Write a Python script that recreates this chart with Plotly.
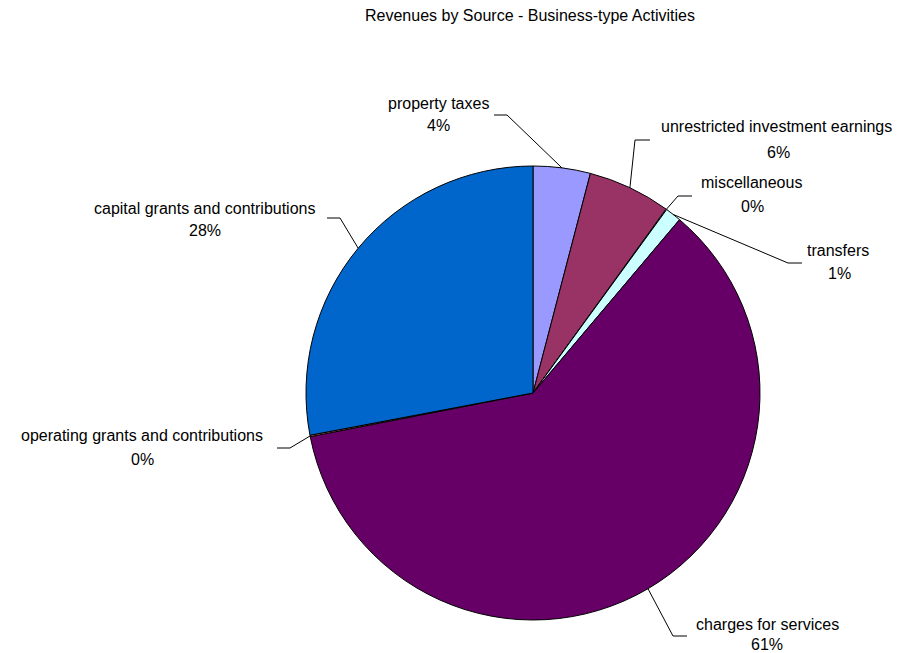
import math
import plotly.graph_objects as go

W, H = 905, 653

# ---- data ----
labels = ["property taxes", "unrestricted investment earnings", "miscellaneous",
          "transfers", "charges for services", "operating grants and contributions",
          "capital grants and contributions"]
values = [4.07, 5.90, 0.05, 1.15, 60.75, 0.10, 27.98]
pct_labels = ["4%", "6%", "0%", "1%", "61%", "0%", "28%"]
colors = ["#9999FF", "#993366", "#FFFFCC", "#CCFFFF", "#660066", "#FF8080", "#0066CC"]

# ---- layout (pixels) ----
cx, cy, R = 533, 393, 227
# label line centre (x, y) and percent line centre (x, y)
name_pos = [(438, 103), (776, 127), (751, 183), (838, 250), (767, 624), (142, 435), (204, 208)]
pct_pos = [(438, 126), (778, 152), (752, 207), (839, 273), (767, 644), (142, 459), (205, 230)]
# elbow point and end of horizontal segment of each leader line
elbow = [(507, 115), (635, 140), (678, 196), (788, 263), (673, 636), (290, 448), (340, 218)]
ends = [(494, 115), (650, 140), (692, 196), (802, 263), (687, 636), (277, 448), (327, 218)]


def px(x):
    return x / W


def py(y):
    return 1 - y / H


fig = go.Figure(go.Pie(
    labels=labels, values=values, sort=False, direction="clockwise", rotation=0,
    marker=dict(colors=colors, line=dict(color="black", width=1)),
    textinfo="none", hoverinfo="label+percent", showlegend=False,
    domain=dict(x=[px(cx - R), px(cx + R)], y=[py(cy + R), py(cy - R)]),
))

font = dict(family="Liberation Sans, Arial, sans-serif", size=16, color="black")
annotations = []
shapes = []
total = sum(values)
cum = 0.0
for i, v in enumerate(values):
    mid = (cum + v / 2) / total * 2 * math.pi
    cum += v
    ax_ = cx + R * math.sin(mid)
    ay_ = cy - R * math.cos(mid)
    annotations.append(dict(x=px(name_pos[i][0]), y=py(name_pos[i][1]), xref="paper", yref="paper",
                            text=labels[i], showarrow=False, font=font,
                            xanchor="center", yanchor="middle"))
    annotations.append(dict(x=px(pct_pos[i][0]), y=py(pct_pos[i][1]), xref="paper", yref="paper",
                            text=pct_labels[i], showarrow=False, font=font,
                            xanchor="center", yanchor="middle"))
    ex, ey = elbow[i]
    nx, ny = ends[i]
    path = f"M {px(ax_)},{py(ay_)} L {px(ex)},{py(ey)} L {px(nx)},{py(ny)}"
    shapes.append(dict(type="path", xref="paper", yref="paper", path=path,
                       line=dict(color="black", width=1)))

annotations.append(dict(x=px(530), y=py(15), xref="paper", yref="paper",
                        text="Revenues by Source - Business-type Activities", showarrow=False,
                        font=font, xanchor="center", yanchor="middle"))

fig.update_layout(width=W, height=H, margin=dict(l=0, r=0, t=0, b=0),
                  paper_bgcolor="white", plot_bgcolor="white",
                  annotations=annotations, shapes=shapes)

fig.write_html("out.html")
